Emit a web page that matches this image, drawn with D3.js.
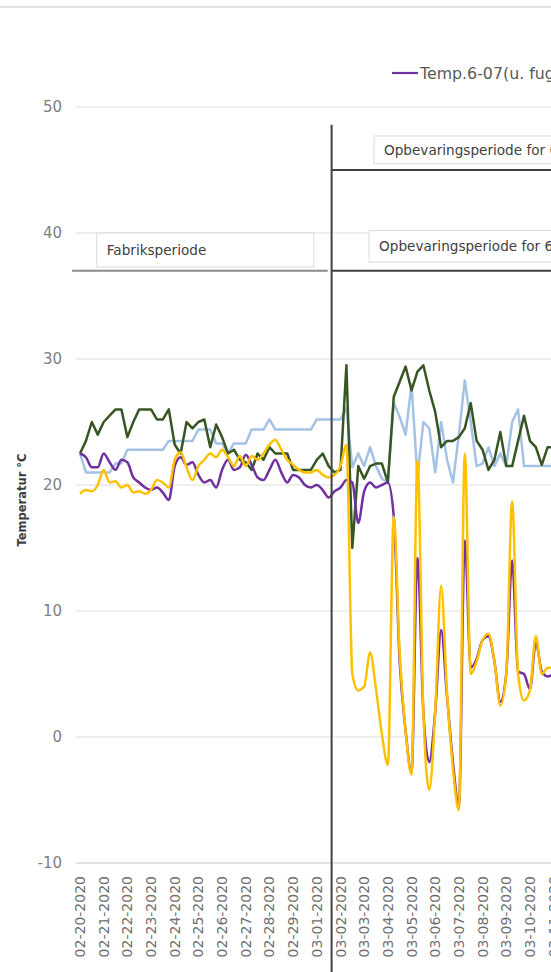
<!DOCTYPE html>
<html>
<head>
<meta charset="utf-8">
<script src="https://cdn.jsdelivr.net/npm/d3@7"></script>
<style>
  body { margin: 0; background: #fff; }
  svg { display: block; }
  text { font-family: "DejaVu Sans", sans-serif; }
</style>
</head>
<body>
<svg width="551" height="972"></svg>
<script>
// une mesure toutes les 6 heures a partir du 20 fevrier
const stepHours = 6;
const startDate = new Date(2020, 1, 20);

const dateLabels = ["02-20-2020", "02-21-2020", "02-22-2020", "02-23-2020", "02-24-2020",
  "02-25-2020", "02-26-2020", "02-27-2020", "02-28-2020", "02-29-2020", "03-01-2020",
  "03-02-2020", "03-03-2020", "03-04-2020", "03-05-2020", "03-06-2020", "03-07-2020",
  "03-08-2020", "03-09-2020", "03-10-2020", "03-11-2020"];
const yTicks = [-10, 0, 10, 20, 30, 40, 50];

const purple = [22.5, 22.2, 21.4, 21.4, 22.5, 21.8, 21.2, 22, 21.8, 20.6,
  20.2, 19.8, 19.6, 19.8, 19.4, 18.8, 21.5, 22.2, 21.6, 21.8,
  20.8, 20.2, 20.4, 19.8, 21.2, 22, 21.2, 21.4, 22.4, 21.6,
  20.6, 20.4, 21.2, 22, 21, 20.2, 20.8, 20.6, 20, 19.8,
  20, 19.6, 19, 19.5, 19.8, 20.4, 20.2, 17, 19.5, 20.2,
  19.8, 20, 20.2, 17.5, 6, 0.5, -2.8, 14.2, 2, -2,
  2, 8.5, 3.2, -2, -5.5, 15.6, 5.5, 6.2, 7.7, 8,
  6, 2.8, 5, 14, 5.2, 5, 3.8, 7.5, 5.2, 4.8, 5];

const yellow = [19.3, 19.6, 19.5, 20, 21.2, 20.2, 20.3, 19.8, 20, 19.4,
  19.5, 19.3, 19.6, 20.4, 20.2, 19.8, 22, 22.6, 21.4, 20.4,
  21.5, 22, 22.5, 22.2, 22.8, 22.2, 21.5, 22.3, 21.5, 22.3,
  22, 22.5, 23.2, 23.6, 22.8, 22, 21.6, 21.2, 21, 21,
  21.2, 20.8, 20.6, 20.8, 21.5, 23.2, 5, 3.7, 4, 6.7,
  3.8, 0.2, -2.2, 17.5, 6.6, 0.5, -3, 22, 2, -4.2,
  2, 12, 3.5, -2.5, -5.8, 22.5, 5, 6, 7.7, 8.2,
  6, 2.5, 5, 18.7, 5, 2.9, 3.7, 8, 5, 5.5, 5.5];

const green = [22.5, 23.5, 25, 24, 25, 25.5, 26, 26, 23.8, 25,
  26, 26, 26, 25.2, 25.2, 26, 23.2, 22.5, 25, 24.5,
  25, 25.2, 23, 24.8, 23.8, 22.5, 22.8, 22, 21.8, 21.2,
  22.5, 22, 23, 22.5, 22.5, 22.5, 21.2, 21.2, 21.2, 21.2,
  22, 22.5, 21.5, 21, 21.2, 29.5, 15, 21.5, 20.5, 21.5,
  21.7, 21.7, 20.2, 27, 28.2, 29.4, 27.5, 29, 29.5, 27.5,
  25.8, 23, 23.5, 23.5, 23.8, 24.5, 26.5, 23.5, 22.8, 21.2,
  22, 24.2, 21.5, 21.5, 23.5, 25.5, 23.5, 23, 21.6, 23, 23];

const blue = [22.5, 21, 21, 21, 21, 21, 21.7, 21.7, 22.8, 22.8,
  22.8, 22.8, 22.8, 22.8, 22.8, 23.5, 23.5, 23.5, 23.5, 23.5,
  24.4, 24.4, 24.4, 23.3, 23.3, 22.5, 23.3, 23.3, 23.3, 24.4,
  24.4, 24.4, 25.2, 24.4, 24.4, 24.4, 24.4, 24.4, 24.4, 24.4,
  25.2, 25.2, 25.2, 25.2, 25.2, 26.1, 21.4, 22.5, 21.5, 23,
  21.5, 20.5, 20.2, 26.5, 25.4, 24, 28, 20.6, 25, 24.5,
  21, 25, 22, 20.2, 24, 28.3, 25, 21.5, 21.7, 23,
  21.5, 22.5, 21.5, 25, 26, 21.5, 21.5, 21.5, 21.5, 21.5, 21.5];

// ordre de dessin
const series = [
  {name: "Temp.6-08", values: blue, color: "#a3c2e6", curve: d3.curveLinear},
  {name: "Temp.6-08(u. fugt)", values: green, color: "#375623", curve: d3.curveLinear},
  {name: "Temp.6-07(u. fugt)", values: purple, color: "#7030a0", curve: d3.curveMonotoneX},
  {name: "Temp.6-07", values: yellow, color: "#ffc000", curve: d3.curveMonotoneX}
];
// ordre de la legende
const legendOrder = ["Temp.6-07(u. fugt)", "Temp.6-07", "Temp.6-08(u. fugt)", "Temp.6-08"];

// periodes (dates et niveaux de temperature)
const splitDate = new Date(2020, 2, 1, 15);
const periods = [
  {label: "Fabriksperiode", from: new Date(2020, 1, 20, 17), to: new Date(2020, 1, 29, 21), top: 40, bottom: 37.3, line: 37, lineFrom: new Date(2020, 1, 19, 16), lineTo: new Date(2020, 2, 1, 11), lineColor: "#8a8a8a"},
  {label: "Opbevaringsperiode for 6-07", from: new Date(2020, 2, 3, 5), to: new Date(2020, 2, 13), top: 40.2, bottom: 37.7, line: 37, lineFrom: splitDate, lineTo: new Date(2020, 2, 14), lineColor: "#404040"},
  {label: "Opbevaringsperiode for 6-08", from: new Date(2020, 2, 3, 10), to: new Date(2020, 2, 13), top: 47.7, bottom: 45.5, line: 45, lineFrom: splitDate, lineTo: new Date(2020, 2, 14), lineColor: "#404040"}
];

const svg = d3.select("svg");
const width = 551;

const x = d3.scaleTime()
  .domain([startDate, new Date(2020, 2, 11)])
  .range([80, 80 + 20 * 23.68]);
const y = d3.scaleLinear()
  .domain([-10, 50])
  .range([863, 107]);

const parseLabel = d3.timeParse("%m-%d-%Y");
const timeOf = i => d3.timeHour.offset(startDate, i * stepHours);

// bordure du haut
svg.append("line")
  .attr("x1", 0).attr("x2", width)
  .attr("y1", 7).attr("y2", 7)
  .attr("stroke", "#e3e3e3").attr("stroke-width", 2);

// grille
svg.selectAll(".grid")
  .data(yTicks)
  .join("line")
  .attr("x1", 76).attr("x2", width)
  .attr("y1", d => y(d)).attr("y2", d => y(d))
  .attr("stroke", d => d === -10 ? "#d9d9d9" : "#e8e8e8")
  .attr("stroke-width", 1.5);

svg.selectAll(".ylab")
  .data(yTicks)
  .join("text")
  .attr("x", 62)
  .attr("y", d => y(d))
  .attr("dy", "0.35em")
  .attr("text-anchor", "end")
  .attr("fill", "#7f7f7f")
  .attr("font-size", 15)
  .text(d => d);

svg.append("text")
  .attr("transform", "translate(26,500) rotate(-90)")
  .attr("text-anchor", "middle")
  .attr("fill", "#404040")
  .attr("font-size", 11.5)
  .attr("font-weight", "bold")
  .text("Temperatur °C");

// etiquettes de dates
svg.selectAll(".xlab")
  .data(dateLabels)
  .join("text")
  .attr("transform", d => `translate(${x(parseLabel(d))},876) rotate(-90)`)
  .attr("dy", "0.36em")
  .attr("text-anchor", "end")
  .attr("fill", "#6f6f6f")
  .attr("font-size", 14)
  .text(d => d);

// courbes
series.forEach(s => {
  const line = d3.line()
    .x((d, i) => x(timeOf(i)))
    .y(d => y(d))
    .curve(s.curve);
  svg.append("path")
    .datum(s.values)
    .attr("fill", "none")
    .attr("stroke", s.color)
    .attr("stroke-width", 2.5)
    .attr("stroke-linejoin", "round")
    .attr("d", line);
});

// periodes
periods.forEach(p => {
  svg.append("line")
    .attr("x1", x(p.lineFrom)).attr("x2", x(p.lineTo))
    .attr("y1", y(p.line)).attr("y2", y(p.line))
    .attr("stroke", p.lineColor).attr("stroke-width", 2);
  svg.append("rect")
    .attr("x", x(p.from)).attr("y", y(p.top))
    .attr("width", x(p.to) - x(p.from))
    .attr("height", y(p.bottom) - y(p.top))
    .attr("fill", "#fff")
    .attr("stroke", "#d9d9d9");
  svg.append("text")
    .attr("x", x(p.from) + 10)
    .attr("y", (y(p.top) + y(p.bottom)) / 2)
    .attr("dy", "0.35em")
    .attr("fill", "#404040")
    .attr("font-size", 13.6)
    .text(p.label);
});

svg.append("line")
  .attr("x1", x(splitDate)).attr("x2", x(splitDate))
  .attr("y1", y(48.6)).attr("y2", 972)
  .attr("stroke", "#404040").attr("stroke-width", 2);

// legende
const legend = svg.append("g").attr("transform", "translate(392,73)");
legendOrder.forEach((name, k) => {
  const s = series.find(d => d.name === name);
  const g = legend.append("g").attr("transform", `translate(${k * 190},0)`);
  g.append("line").attr("x1", 0).attr("x2", 26).attr("stroke", s.color).attr("stroke-width", 2.2);
  g.append("text").attr("x", 28).attr("dy", "0.35em")
    .attr("fill", "#595959").attr("font-size", 15.8).text(s.name);
});
</script>
</body>
</html>
